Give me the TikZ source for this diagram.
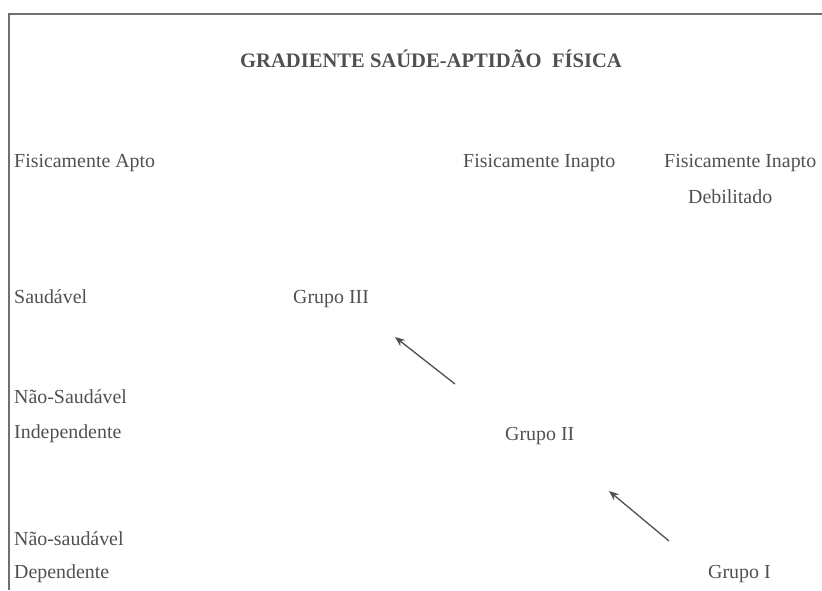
\documentclass[tikz,border=0pt]{standalone}
\usepackage{fontspec}
\setmainfont{Liberation Serif}
\usetikzlibrary{arrows.meta}
\definecolor{ink}{HTML}{505050}
\definecolor{rule}{HTML}{707070}
\tikzset{
  lbl/.style={anchor=base west, inner sep=0pt, text=ink, font=\fontsize{19.9}{23}\selectfont},
  ttl/.style={anchor=base, inner sep=0pt, text=ink, font=\bfseries\fontsize{20.6}{24}\selectfont},
  frame/.style={draw=rule, line width=1.4pt},
  arr/.style={draw=ink, line width=1.3pt, -{Stealth[length=10pt,width=8pt]}}
}
\begin{document}
\begin{tikzpicture}[x=1pt,y=-1pt]
\useasboundingbox (0,0) rectangle (822,590);
\coordinate (ftl) at (8.3,14);
\coordinate (ftr) at (822,14);
\coordinate (fc) at (9,14);
\coordinate (fb) at (9,590);
\draw[frame] (ftl) -- (ftr);
\draw[frame] (fc) -- (fb);
\node[ttl] (title) at (431,67) {GRADIENTE SAÚDE-APTIDÃO\ \ FÍSICA};
\node[lbl] (apto) at (14,167) {Fisicamente Apto};
\node[lbl] (inapto) at (463,167) {Fisicamente Inapto};
\node[lbl] (inaptod) at (664,167) {Fisicamente Inapto};
\node[lbl] (debil) at (688,203) {Debilitado};
\node[lbl] (saud) at (14,303) {Saudável};
\node[lbl] (g3) at (293,303) {Grupo III};
\node[lbl] (nsi1) at (14,403) {Não-Saudável};
\node[lbl] (nsi2) at (14,438) {Independente};
\node[lbl] (g2) at (505,440) {Grupo II};
\node[lbl] (nsd1) at (14,545) {Não-saudável};
\node[lbl] (nsd2) at (14,578) {Dependente};
\node[lbl] (g1) at (708,578) {Grupo I};
\coordinate (a1s) at (455,384);
\coordinate (a1e) at (395,337);
\coordinate (a2s) at (669,541);
\coordinate (a2e) at (609,491);
\draw[arr] (a1s) -- (a1e);
\draw[arr] (a2s) -- (a2e);
\end{tikzpicture}
\end{document}
